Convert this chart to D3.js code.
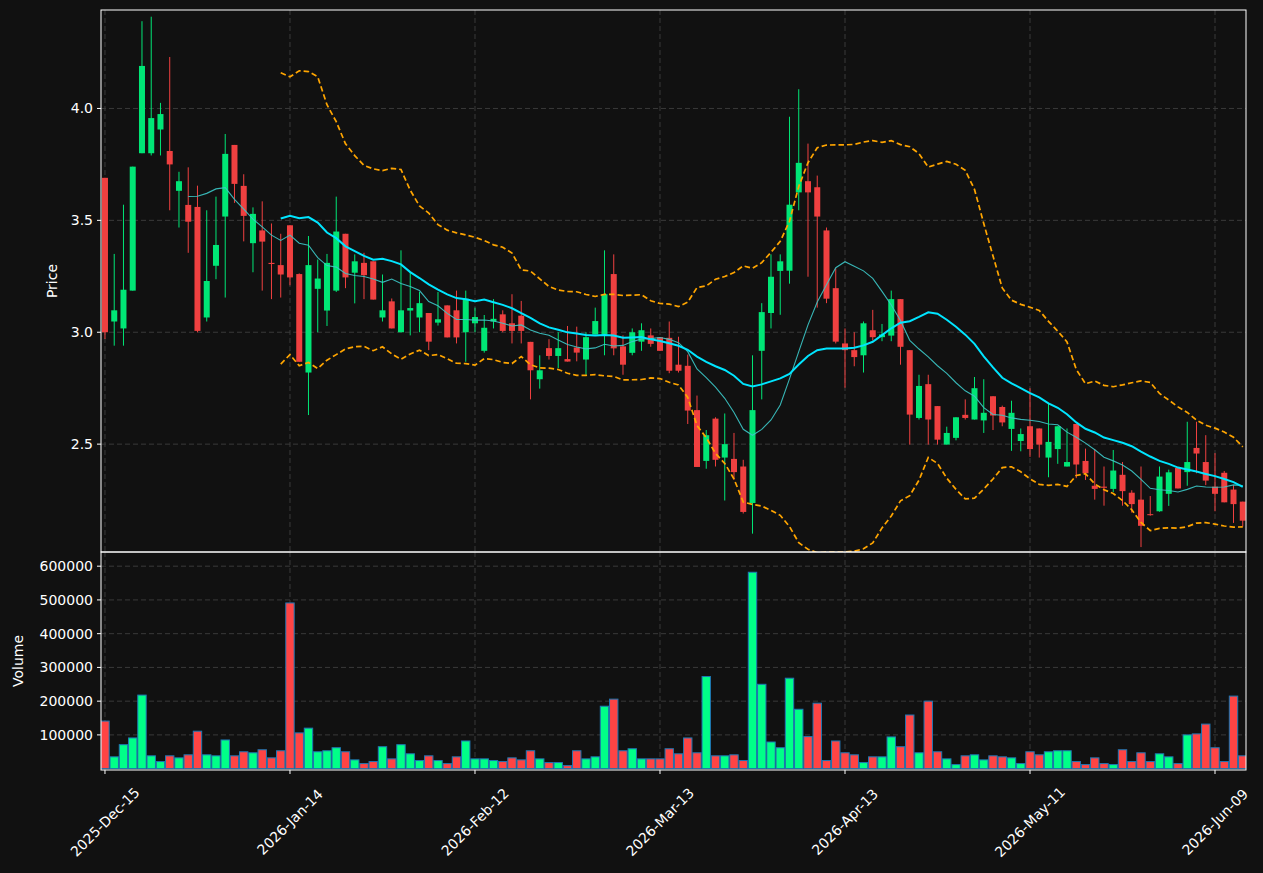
<!DOCTYPE html>
<html><head><meta charset="utf-8">
<script src="https://cdn.jsdelivr.net/npm/d3@7"></script>
<style>body{margin:0;background:#111111;}svg{display:block;}</style>
</head><body>
<script>
const opens =[3.69,3.048,3.017,3.186,3.80,3.80,3.906,3.81,3.632,3.569,3.56,3.066,3.297,3.517,3.837,3.654,3.398,3.455,3.31,3.30,3.478,3.26,2.82,3.194,3.097,3.186,3.44,3.266,3.31,3.317,3.066,3.138,3.0,3.097,3.066,3.086,3.043,3.12,3.098,3.0,3.04,2.917,3.048,3.08,3.04,3.074,2.957,2.79,2.929,2.894,2.88,2.932,2.878,2.99,2.99,3.26,2.937,2.908,2.958,2.986,2.978,2.975,2.855,2.85,2.652,2.425,2.614,2.44,2.434,2.40,2.237,2.917,3.086,3.274,3.275,3.625,3.675,3.648,3.455,3.197,2.95,2.92,2.897,3.009,2.978,2.985,3.148,2.92,2.617,2.768,2.67,2.498,2.528,2.631,2.61,2.606,2.714,2.666,2.568,2.514,2.58,2.57,2.44,2.478,2.40,2.59,2.425,2.314,2.31,2.30,2.363,2.283,2.252,2.187,2.20,2.278,2.394,2.375,2.483,2.42,2.31,2.372,2.297,2.243];
const highs =[3.69,3.35,3.57,3.74,4.39,4.41,4.025,4.23,3.717,3.737,3.655,3.545,3.606,3.886,3.837,3.706,3.558,3.585,3.486,3.44,3.478,3.263,3.43,3.325,3.35,3.606,3.44,3.348,3.355,3.317,3.258,3.151,3.366,3.27,3.18,3.086,3.18,3.12,3.186,3.186,3.11,3.077,3.148,3.098,3.17,3.14,2.957,2.897,2.969,3.0,3.028,3.025,3.0,3.11,3.366,3.348,2.986,3.017,3.04,3.017,2.978,3.048,2.98,2.9,2.717,2.563,2.62,2.637,2.55,2.43,2.897,3.13,3.348,3.348,3.963,4.086,3.843,3.70,3.468,3.286,3.017,3.0,3.048,3.10,3.037,3.186,3.148,2.92,2.81,2.81,2.67,2.578,2.62,2.70,2.80,2.79,2.714,2.672,2.694,2.57,2.75,2.57,2.683,2.58,2.57,2.59,2.48,2.478,2.40,2.474,2.42,2.294,2.40,2.268,2.40,2.386,2.394,2.60,2.60,2.54,2.46,2.38,2.317,2.243];
const lows  =[2.97,2.94,2.94,3.186,3.80,3.79,3.79,3.545,3.468,3.355,3.0,3.048,3.237,3.155,3.578,3.406,3.268,3.186,3.148,3.155,3.21,2.868,2.63,3.0,3.028,3.18,3.197,3.129,3.148,3.146,3.048,3.017,3.0,2.986,3.0,2.92,3.03,2.977,2.95,2.868,3.0,2.909,3.017,3.0,2.95,2.95,2.70,2.748,2.878,2.84,2.869,2.87,2.81,2.99,2.897,2.897,2.81,2.897,2.917,2.935,2.917,2.817,2.82,2.59,2.398,2.39,2.40,2.248,2.34,2.19,2.10,2.70,3.017,3.078,3.217,3.545,3.248,3.11,3.13,2.95,2.752,2.848,2.82,2.963,2.96,2.96,2.855,2.498,2.61,2.498,2.498,2.498,2.517,2.61,2.61,2.55,2.563,2.58,2.47,2.468,2.443,2.44,2.352,2.412,2.40,2.348,2.34,2.252,2.225,2.286,2.225,2.194,2.04,2.18,2.198,2.224,2.302,2.314,2.37,2.317,2.20,2.24,2.148,2.132];
const closes=[3.0,3.098,3.19,3.74,4.19,3.957,3.975,3.75,3.675,3.494,3.006,3.229,3.39,3.797,3.663,3.52,3.529,3.405,3.305,3.258,3.245,2.868,3.30,3.24,3.31,3.45,3.245,3.317,3.255,3.146,3.098,3.017,3.098,3.108,3.13,2.958,3.058,2.977,2.977,3.15,3.068,3.02,3.06,3.006,3.006,3.006,2.83,2.83,2.894,2.929,2.869,2.909,2.978,3.05,3.17,2.928,2.855,3.0,3.009,2.948,2.917,2.828,2.828,2.65,2.398,2.54,2.43,2.50,2.375,2.197,2.652,3.09,3.248,3.317,3.57,3.757,3.625,3.517,3.15,2.958,2.92,2.889,3.04,2.978,2.99,3.148,2.935,2.632,2.76,2.61,2.52,2.55,2.62,2.617,2.75,2.64,2.628,2.597,2.64,2.545,2.478,2.498,2.51,2.58,2.42,2.409,2.37,2.30,2.305,2.382,2.29,2.232,2.135,2.184,2.355,2.374,2.302,2.42,2.458,2.337,2.278,2.24,2.232,2.158];
const volumes=[141000,35000,71000,91000,218000,38000,21000,38000,32000,41000,111000,41000,38000,85000,38000,50000,47000,56000,32000,53000,491000,106000,120000,50000,53000,62000,50000,26000,15000,21000,65000,29000,71000,44000,24000,38000,24000,15000,35000,82000,29000,29000,24000,21000,32000,26000,53000,29000,18000,18000,9000,53000,29000,35000,185000,206000,53000,59000,29000,29000,29000,59000,44000,91000,47000,273000,38000,38000,41000,24000,582000,250000,79000,62000,268000,176000,95000,194000,24000,82000,47000,41000,18000,35000,35000,94000,65000,159000,47000,200000,50000,29000,12000,38000,41000,26000,38000,35000,32000,15000,50000,41000,50000,53000,53000,21000,12000,32000,15000,12000,56000,21000,47000,21000,44000,35000,15000,100000,103000,132000,62000,21000,215000,38000];
const tickIdx=[0,20,40,60,80,100,120];
const tickLabels=["2025-Dec-15","2026-Jan-14","2026-Feb-12","2026-Mar-13","2026-Apr-13","2026-May-11","2026-Jun-09"];
const priceTicks=[2.5,3.0,3.5,4.0];
const volTicks=[100000,200000,300000,400000,500000,600000];

const W=1263,H=873,L=101,R=1246,PT=10,PB=552,VT=552,VB=770;
const n=closes.length;
const svg=d3.select("body").append("svg").attr("width",W).attr("height",H).style("background","#111111");
const x=d3.scaleLinear().domain([-0.43,123.35]).range([L,R]);
const y=d3.scaleLinear().domain([2.018,4.44]).range([PB,PT]);
const yv=d3.scaleLinear().domain([-4000,642000]).range([VB,VT]);
const font="DejaVu Sans, sans-serif";
const up=i=>closes[i]>=opens[i];
const defs=svg.append("defs");
defs.append("clipPath").attr("id","cp").append("rect").attr("x",L).attr("y",PT).attr("width",R-L).attr("height",PB-PT);
defs.append("clipPath").attr("id","cv").append("rect").attr("x",L).attr("y",VT).attr("width",R-L).attr("height",VB-VT);

const grid=svg.append("g").attr("stroke","#3a3a3a").attr("stroke-dasharray","5,3").attr("stroke-width",1);
tickIdx.forEach(i=>{grid.append("line").attr("x1",x(i)).attr("x2",x(i)).attr("y1",PT).attr("y2",PB);
  grid.append("line").attr("x1",x(i)).attr("x2",x(i)).attr("y1",VT).attr("y2",VB);});
priceTicks.forEach(p=>grid.append("line").attr("x1",L).attr("x2",R).attr("y1",y(p)).attr("y2",y(p)));
volTicks.forEach(v=>grid.append("line").attr("x1",L).attr("x2",R).attr("y1",yv(v)).attr("y2",yv(v)));

const idx=d3.range(n);
const cg=svg.append("g").attr("clip-path","url(#cp)");
const cw=6;
cg.selectAll(".wick").data(idx).join("line").attr("x1",i=>x(i)).attr("x2",i=>x(i))
 .attr("y1",i=>y(highs[i])).attr("y2",i=>y(lows[i])).attr("stroke",i=>up(i)?"#00e676":"#f04040").attr("stroke-width",1);
cg.selectAll(".body").data(idx).join("rect").attr("x",i=>x(i)-cw/2).attr("width",cw)
 .attr("y",i=>y(Math.max(opens[i],closes[i]))).attr("height",i=>Math.max(1,Math.abs(y(opens[i])-y(closes[i]))))
 .attr("fill",i=>up(i)?"#00e676":"#f04040");

function sma(k){return idx.map(i=>i<k-1?null:d3.mean(closes.slice(i-k+1,i+1)));}
const ma10=sma(10),ma20=sma(20);
const sd=idx.map(i=>{if(i<19)return null;const s=closes.slice(i-19,i+1),m=d3.mean(s);return Math.sqrt(d3.mean(s,v=>(v-m)*(v-m)));});
const upper=idx.map(i=>ma20[i]==null?null:ma20[i]+2*sd[i]);
const lower=idx.map(i=>ma20[i]==null?null:ma20[i]-2*sd[i]);
const line=arr=>d3.line().defined(i=>arr[i]!=null).x(i=>x(i)).y(i=>y(arr[i]))(idx);
cg.append("path").attr("d",line(ma10)).attr("fill","none").attr("stroke","#3cc8c8").attr("stroke-width",1.1).attr("opacity",0.9);
cg.append("path").attr("d",line(ma20)).attr("fill","none").attr("stroke","#00e5ff").attr("stroke-width",2);
[upper,lower].forEach(a=>cg.append("path").attr("d",line(a)).attr("fill","none").attr("stroke","#ffa500").attr("stroke-width",1.7).attr("stroke-dasharray","5.5,3"));

const vg=svg.append("g").attr("clip-path","url(#cv)");
const vw=8.4;
vg.selectAll("rect").data(idx).join("rect").attr("x",i=>x(i)-vw/2).attr("width",vw)
 .attr("y",i=>yv(volumes[i])).attr("height",i=>yv(0)-yv(volumes[i]))
 .attr("fill",i=>up(i)?"#00ff88":"#ff4444").attr("stroke","#1f77b4").attr("stroke-width",1);

[[PT,PB],[VT,VB]].forEach(([a,b])=>svg.append("rect").attr("x",L).attr("y",a).attr("width",R-L).attr("height",b-a).attr("fill","none").attr("stroke","#ffffff").attr("stroke-width",1));

const ax=svg.append("g").attr("font-family",font).attr("font-size",14).attr("fill","#ffffff");
priceTicks.forEach(p=>{ax.append("line").attr("x1",L-4).attr("x2",L).attr("y1",y(p)).attr("y2",y(p)).attr("stroke","#fff");
  ax.append("text").attr("x",L-8).attr("y",y(p)).attr("dy","0.35em").attr("text-anchor","end").text(p.toFixed(1));});
volTicks.forEach(v=>{ax.append("line").attr("x1",L-4).attr("x2",L).attr("y1",yv(v)).attr("y2",yv(v)).attr("stroke","#fff");
  ax.append("text").attr("x",L-8).attr("y",yv(v)).attr("dy","0.35em").attr("text-anchor","end").text(v);});
tickIdx.forEach((i,k)=>{ax.append("line").attr("x1",x(i)).attr("x2",x(i)).attr("y1",VB).attr("y2",VB+4).attr("stroke","#fff");
  ax.append("text").attr("transform",`translate(${x(i)},${VB+52}) rotate(-45)`).attr("text-anchor","middle").attr("dy","0.35em").text(tickLabels[k]);});
ax.append("text").attr("transform",`translate(57,${(PT+PB)/2}) rotate(-90)`).attr("text-anchor","middle").text("Price");
ax.append("text").attr("transform",`translate(23,${(VT+VB)/2}) rotate(-90)`).attr("text-anchor","middle").text("Volume");
</script>
</body></html>
